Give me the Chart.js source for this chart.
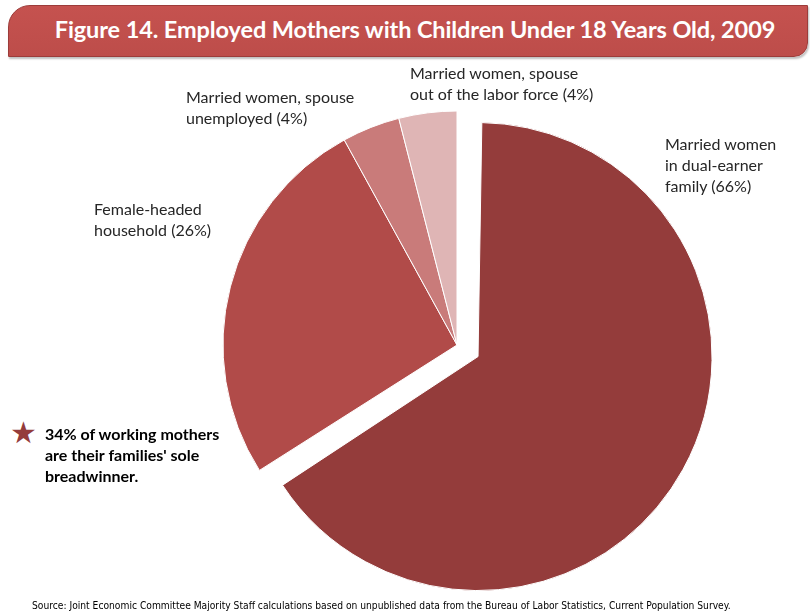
<!DOCTYPE html>
<html>
<head>
<meta charset="utf-8">
<script src="https://cdn.jsdelivr.net/npm/chart.js@4"></script>
<style>
  html, body { margin: 0; padding: 0; background: #fff; overflow: hidden; }
  body { width: 810px; height: 615px; position: relative; font-family: Lato, "Open Sans", sans-serif; }
  .banner {
    position: absolute; left: 8px; top: 5px; width: 798px; height: 50px;
    background: linear-gradient(#c5524f, #bd4d4a);
    border: 1px solid #9c3c3a;
    border-radius: 22px 0 14px 0;
    box-shadow: 1px 2px 2px rgba(0,0,0,0.25);
  }
  .banner h1 {
    margin: 0; position: absolute; left: 14px; right: 0; top: 9px;
    text-align: center; color: #fff; font-size: 23.5px; font-weight: bold;
    letter-spacing: -0.1px;
  }
  .lbl { position: absolute; color: #262626; font-size: 16px; line-height: 21px; white-space: nowrap; }
  .note { position: absolute; left: 45px; top: 423px; font-weight: bold; color: #000; font-size: 16px; line-height: 21px; }
  .star { position: absolute; left: 10px; top: 413px; color: #943c3b; font-size: 30px; }
  .src { position: absolute; left: 32px; top: 600px; font-size: 10.2px; color: #000; font-family: "Liberation Sans Narrow", "DejaVu Sans Condensed", sans-serif; white-space: nowrap; }
  #wrap { position: absolute; left: 187px; top: 75px; width: 540px; height: 540px; }
</style>
</head>
<body>
<div class="banner"><h1>Figure 14. Employed Mothers with Children Under 18 Years Old, 2009</h1></div>
<div id="wrap"><canvas id="pie"></canvas></div>

<div class="lbl" style="left:410px; top:62px;">Married women, spouse<br>out of the labor force (4%)</div>
<div class="lbl" style="left:186px; top:86px;">Married women, spouse<br>unemployed (4%)</div>
<div class="lbl" style="left:665px; top:133px;">Married women<br>in dual-earner<br>family (66%)</div>
<div class="lbl" style="left:94px; top:198px;">Female-headed<br>household (26%)</div>

<div class="star">&#9733;</div>
<div class="note">34% of working mothers<br>are their families' sole<br>breadwinner.</div>

<div class="src">Source: Joint Economic Committee Majority Staff calculations based on unpublished data from the Bureau of Labor Statistics, Current Population Survey.</div>

<script>
// slice data, clockwise from 12 o'clock
const categories = [
  'Married women in dual-earner family',
  'Female-headed household',
  'Married women, spouse unemployed',
  'Married women, spouse out of the labor force'
];
const shares = [66, 26, 4, 4];
const sliceColors = ['#943c3b', '#b14b49', '#c97b7a', '#dfb5b5'];
// Chart.js draws the arc shifted by offset / 4, so 96 gives ~24px
const sliceOffsets = [96, 0, 0, 0];

// Chart.js also grows the radius of a >180deg exploded slice by its offset;
// take that back so the slice is only shifted, like the original
const explodeFix = {
  id: 'explodeFix',
  afterDatasetUpdate(chart, args) {
    args.meta.data.forEach((arc, i) => {
      const off = (sliceOffsets[i] || 0) / 4;
      if (off && arc.circumference > Math.PI) arc.outerRadius -= off;
    });
  }
};

new Chart(document.getElementById('pie').getContext('2d'), {
  type: 'pie',
  data: {
    labels: categories,
    datasets: [{
      data: shares,
      backgroundColor: sliceColors,
      borderColor: '#ffffff',
      borderWidth: 1,
      offset: sliceOffsets
    }]
  },
  options: {
    responsive: true,
    maintainAspectRatio: false,
    animation: false,
    radius: 234,
    layout: { padding: 0 },
    plugins: {
      legend: { display: false },
      tooltip: { enabled: false }
    }
  },
  plugins: [explodeFix]
});
</script>
</body>
</html>
